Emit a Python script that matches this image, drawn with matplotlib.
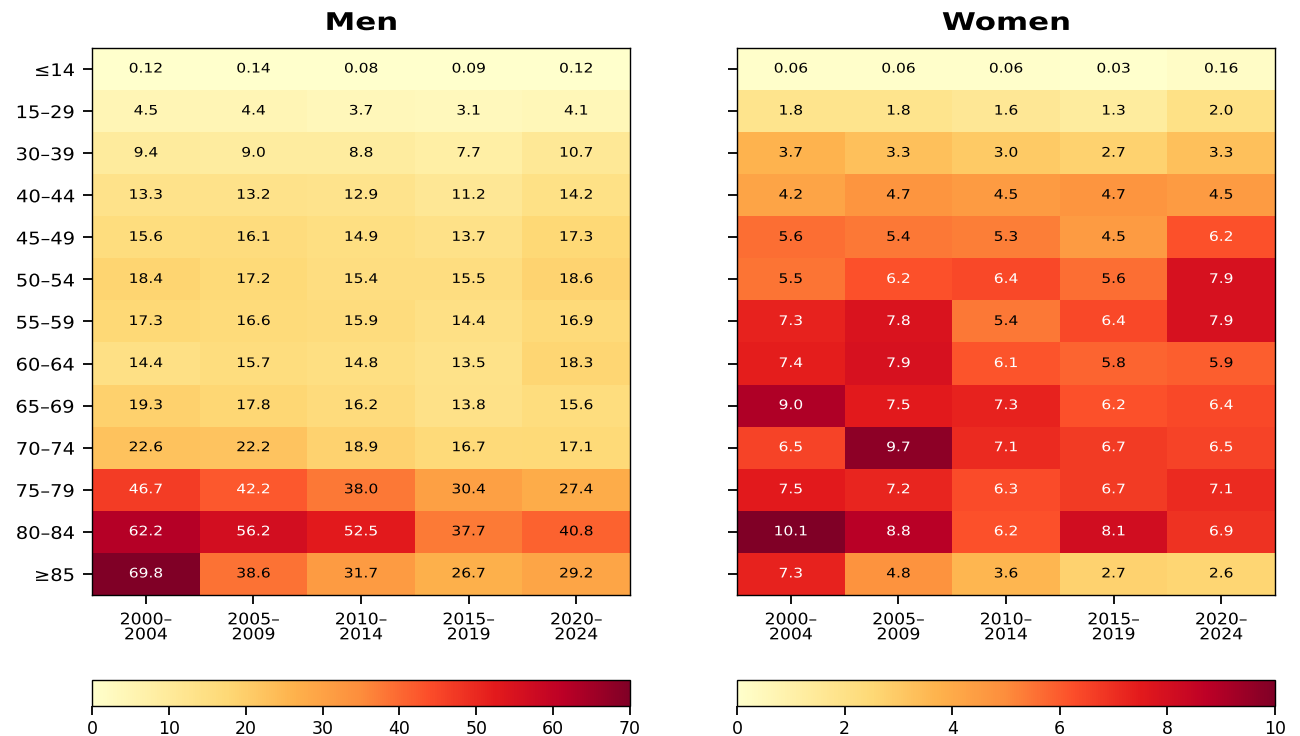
import numpy as np
import matplotlib
matplotlib.use("Agg")
import matplotlib.pyplot as plt
from matplotlib.patheffects import AbstractPathEffect
from matplotlib.transforms import Affine2D

age_groups = ["≤14", "15–29", "30–39", "40–44", "45–49", "50–54", "55–59",
              "60–64", "65–69", "70–74", "75–79", "80–84", "≥85"]
periods = ["2000–\n2004", "2005–\n2009", "2010–\n2014", "2015–\n2019", "2020–\n2024"]

men_rates = [
    [0.12, 0.14, 0.08, 0.09, 0.12],
    [4.5, 4.4, 3.7, 3.1, 4.1],
    [9.4, 9.0, 8.8, 7.7, 10.7],
    [13.3, 13.2, 12.9, 11.2, 14.2],
    [15.6, 16.1, 14.9, 13.7, 17.3],
    [18.4, 17.2, 15.4, 15.5, 18.6],
    [17.3, 16.6, 15.9, 14.4, 16.9],
    [14.4, 15.7, 14.8, 13.5, 18.3],
    [19.3, 17.8, 16.2, 13.8, 15.6],
    [22.6, 22.2, 18.9, 16.7, 17.1],
    [46.7, 42.2, 38.0, 30.4, 27.4],
    [62.2, 56.2, 52.5, 37.7, 40.8],
    [69.8, 38.6, 31.7, 26.7, 29.2],
]

women_rates = [
    [0.06, 0.06, 0.06, 0.03, 0.16],
    [1.8, 1.8, 1.6, 1.3, 2.0],
    [3.7, 3.3, 3.0, 2.7, 3.3],
    [4.2, 4.7, 4.5, 4.7, 4.5],
    [5.6, 5.4, 5.3, 4.5, 6.2],
    [5.5, 6.2, 6.4, 5.6, 7.9],
    [7.3, 7.8, 5.4, 6.4, 7.9],
    [7.4, 7.9, 6.1, 5.8, 5.9],
    [9.0, 7.5, 7.3, 6.2, 6.4],
    [6.5, 9.7, 7.1, 6.7, 6.5],
    [7.5, 7.2, 6.3, 6.7, 7.1],
    [10.1, 8.8, 6.2, 8.1, 6.9],
    [7.3, 4.8, 3.6, 2.7, 2.6],
]

panels = [
    ("Men", men_rates, 70, [0, 10, 20, 30, 40, 50, 60, 70]),
    ("Women", women_rates, 10, [0, 2, 4, 6, 8, 10]),
]


class WideText(AbstractPathEffect):
    """Widen glyphs horizontally about the centre (or right edge) of each line."""

    def __init__(self, sx, anchor="center"):
        super().__init__()
        self.sx = sx
        self.anchor = anchor

    def draw_path(self, renderer, gc, tpath, affine, rgbFace=None):
        verts = tpath.vertices
        if len(verts):
            xs = verts[:, 0]
            cx = xs.max() if self.anchor == "right" else 0.5 * (xs.min() + xs.max())
            pre = Affine2D().translate(-cx, 0).scale(self.sx, 1).translate(cx, 0)
            affine = pre + affine
        renderer.draw_path(gc, tpath, affine, rgbFace)


fig = plt.figure(figsize=(13, 7.36), dpi=100)
lefts = [0.0708, 0.5669]
width = 0.4138

for (title, rates, vmax, cticks), left in zip(panels, lefts):
    data = np.array(rates)
    ax = fig.add_axes([left, 0.1916, width, 0.7432])
    im = ax.imshow(data, cmap="YlOrRd", vmin=0, vmax=vmax, aspect="auto",
                   interpolation="nearest")
    for i in range(data.shape[0]):
        for j in range(data.shape[1]):
            v = data[i, j]
            label = f"{v:.2f}" if v < 1 else f"{v:.1f}"
            color = "white" if v > 0.6 * vmax else "black"
            ax.text(j, i, label, ha="center", va="center", fontsize=9.5,
                    color=color, path_effects=[WideText(1.17)])
    ax.set_xticks(range(len(periods)))
    ax.set_xticklabels(periods, fontsize=11.5, linespacing=1.0)
    ax.set_yticks(range(len(age_groups)))
    if title == "Men":
        ax.set_yticklabels(age_groups, fontsize=12.5)
    else:
        ax.set_yticklabels([])
    ax.tick_params(axis="y", length=6.5, width=1.3, pad=6)
    ax.tick_params(axis="x", length=6.5, width=1.3, pad=6)
    for lbl in ax.get_xticklabels():
        lbl.set_path_effects([WideText(1.08)])
    for lbl in ax.get_yticklabels():
        lbl.set_path_effects([WideText(1.12, anchor="right")])
    for sp in ax.spines.values():
        sp.set_linewidth(1.0)
    ax.set_title(title, fontsize=17.5, fontweight="bold", pad=13,
                 path_effects=[WideText(1.27)])

    cax = fig.add_axes([left, 0.0408, width, 0.0353])
    cb = fig.colorbar(im, cax=cax, orientation="horizontal", ticks=cticks)
    cb.ax.tick_params(labelsize=12.5, length=6.5, width=1.3)
    cb.outline.set_linewidth(1.0)

fig.savefig("out.png", dpi=100)
